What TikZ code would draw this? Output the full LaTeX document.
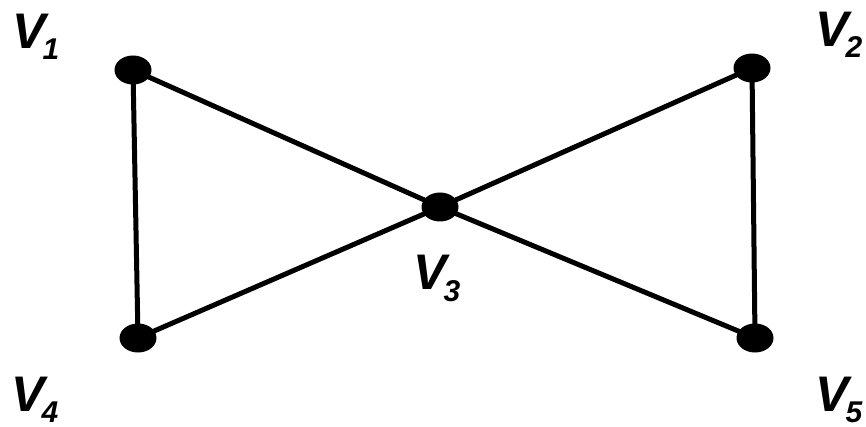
\documentclass[tikz,border=0pt]{standalone}
\usepackage{fontspec}
\setmainfont{Liberation Sans}
\usetikzlibrary{shapes.geometric}
\begin{document}
\begin{tikzpicture}[x=1pt,y=-1pt,
  vertex/.style={fill=black,draw=none,ellipse,minimum width=37pt,minimum height=29pt,inner sep=0pt},
  edge/.style={line width=5pt,line cap=round},
  lbl/.style={anchor=base west,inner sep=0pt,font=\fontsize{50}{50}\selectfont\bfseries\itshape}]
\useasboundingbox (0,0) rectangle (866,427);
\newcommand{\vlab}[1]{V\kern-3pt\raisebox{-0.22em}{\fontsize{30}{30}\selectfont #1}}
\node[vertex] (v1) at (133,70) {};
\node[vertex] (v2) at (752,68) {};
\node[vertex] (v3) at (440,207) {};
\node[vertex] (v4) at (138,338) {};
\node[vertex] (v5) at (755,338) {};
\draw[edge] (v1.center) -- (v4.center);
\draw[edge] (v4.center) -- (v3.center);
\draw[edge] (v3.center) -- (v1.center);
\draw[edge] (v2.center) -- (v5.center);
\draw[edge] (v5.center) -- (v3.center);
\draw[edge] (v3.center) -- (v2.center);
\node[lbl] (l1) at (12,49) {\vlab{1}};
\node[lbl] (l2) at (815,47) {\vlab{2}};
\node[lbl] (l3) at (413,290) {\vlab{3}};
\node[lbl] (l4) at (11,411) {\vlab{4}};
\node[lbl] (l5) at (815,411) {\vlab{5}};
\end{tikzpicture}
\end{document}
